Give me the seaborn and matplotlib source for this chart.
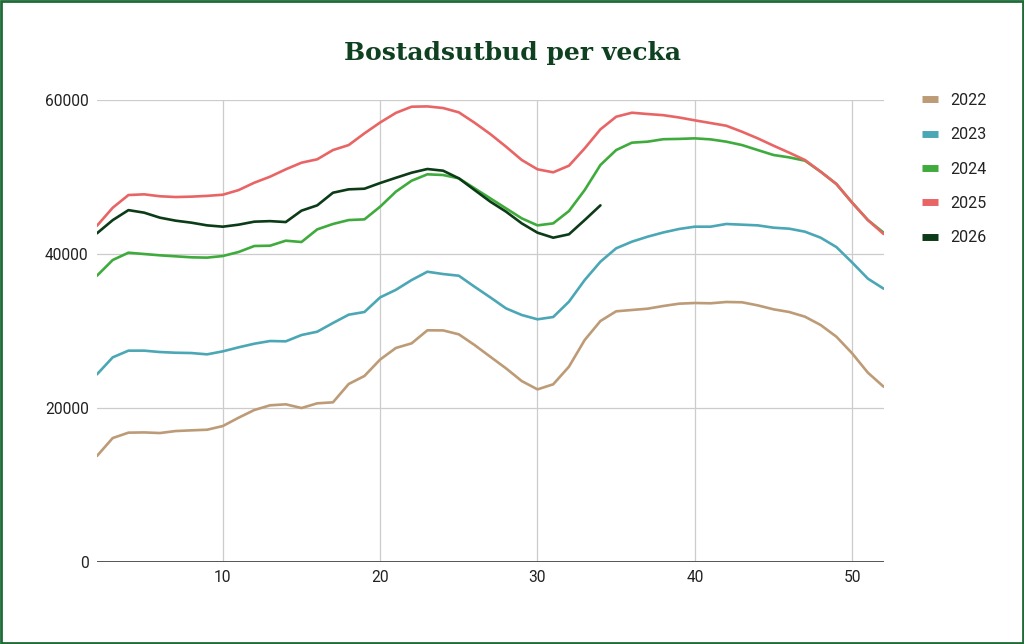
"""
Bostadsutbud per vecka - line chart per year
"""
import pandas as pd
import matplotlib
matplotlib.use("Agg")
import matplotlib.pyplot as plt
from matplotlib.lines import Line2D
from matplotlib.patches import Rectangle
import seaborn as sns

# data (week 2..52)
weeks = list(range(2, 53))
years = ["2022", "2023", "2024", "2025", "2026"]

y2022 = [13770, 16100, 16800, 16830, 16750, 17010, 17100, 17180, 17660, 18740,
         19740, 20350, 20480, 20000, 20610, 20740, 23120, 24160, 26300, 27800,
         28400, 30090, 30080, 29570, 28180, 26660, 25150, 23500, 22420, 23080,
         25370, 28830, 31300, 32560, 32730, 32900, 33250, 33550, 33640, 33600,
         33770, 33730, 33330, 32820, 32470, 31860, 30780, 29260, 27100, 24590,
         22770]
y2023 = [24370, 26580, 27450, 27450, 27270, 27180, 27140, 26970, 27360, 27880,
         28350, 28700, 28660, 29480, 29910, 31040, 32120, 32470, 34370, 35350,
         36620, 37700, 37400, 37180, 35750, 34370, 32940, 32080, 31520, 31820,
         33810, 36620, 39000, 40740, 41600, 42250, 42800, 43250, 43550, 43550,
         43900, 43810, 43720, 43420, 43290, 42900, 42120, 40900, 38900, 36800,
         35500]
y2024 = [37180, 39220, 40170, 40000, 39830, 39700, 39570, 39530, 39740, 40260,
         41040, 41080, 41730, 41560, 43200, 43900, 44410, 44500, 46150, 48100,
         49520, 50350, 50260, 49830, 48530, 47230, 45930, 44630, 43720, 43980,
         45580, 48310, 51560, 53500, 54460, 54590, 54910, 54950, 55020, 54890,
         54590, 54150, 53500, 52860, 52550, 52120, 50690, 49090, 46670, 44410,
         42770]
y2025 = [43670, 46010, 47660, 47750, 47500, 47400, 47450, 47550, 47700, 48300,
         49260, 50040, 51000, 51860, 52300, 53500, 54150, 55670, 57080, 58330,
         59130, 59170, 58960, 58400, 57050, 55580, 53940, 52210, 51000, 50610,
         51470, 53720, 56190, 57830, 58350, 58180, 58030, 57730, 57360, 57010,
         56660, 55880, 55020, 54070, 53160, 52210, 50690, 49090, 46670, 44410,
         42600]
y2026 = [42690, 44400, 45700, 45370, 44720, 44330, 44070, 43720, 43550, 43810,
         44200, 44270, 44150, 45630, 46320, 47960, 48400, 48480, 49220, 49900,
         50560, 51040, 50820, 49830, 48310, 46800, 45500, 43980, 42770, 42120,
         42560, 44410, 46320]

colors = ["#bc9b76", "#4ba7b5", "#3fab3c", "#e96565", "#0c3b17"]

series = [y2022, y2023, y2024, y2025, y2026]
frames = []
for year, vals in zip(years, series):
    frames.append(pd.DataFrame({"Vecka": weeks[:len(vals)], "Antal": vals, "År": year}))
df = pd.concat(frames, ignore_index=True)

sns.set_style("white")
plt.rcParams['font.family'] = ['Roboto', 'DejaVu Sans']

fig = plt.figure(figsize=(10.24, 6.44), dpi=100)
ax = fig.add_axes([0.0947, 0.1273, 0.7682, 0.7174])

sns.lineplot(data=df, x="Vecka", y="Antal", hue="År", hue_order=years,
             palette=dict(zip(years, colors)), linewidth=1.9, ax=ax, legend=False)

ax.set_xlim(2, 52)
ax.set_ylim(0, 60000)
ax.set_xticks([10, 20, 30, 40, 50])
ax.set_yticks([0, 20000, 40000, 60000])
ax.grid(True, color="#cccccc", linewidth=0.9)
ax.set_axisbelow(True)
ax.axhline(0, color="#555555", linewidth=1.4, zorder=1)
for side in ["top", "right", "left", "bottom"]:
    ax.spines[side].set_visible(False)
ax.tick_params(length=0, labelsize=11.2, labelcolor="#222222", pad=6)
ax.set_xlabel("")
ax.set_ylabel("")

# title
fig.text(0.5, 0.917, "Bostadsutbud per vecka", ha="center", va="center",
         fontsize=18, fontweight="bold", color="#0f4020", family="DejaVu Serif")

# legend
handles = [Line2D([0], [0], color=c, linewidth=5, solid_capstyle="butt") for c in colors]
fig.legend(handles, years, loc="upper left", bbox_to_anchor=(0.886, 0.878),
           frameon=False, fontsize=11.5, handlelength=1.0, handletextpad=0.8,
           labelspacing=1.21, labelcolor="#222222")

# green frame around the figure
fig.patches.append(Rectangle((0.001, 0.002), 0.998, 0.996, transform=fig.transFigure,
                             fill=False, edgecolor="#1e6b35", linewidth=2))

fig.savefig("out.png", dpi=100)
plt.close(fig)
